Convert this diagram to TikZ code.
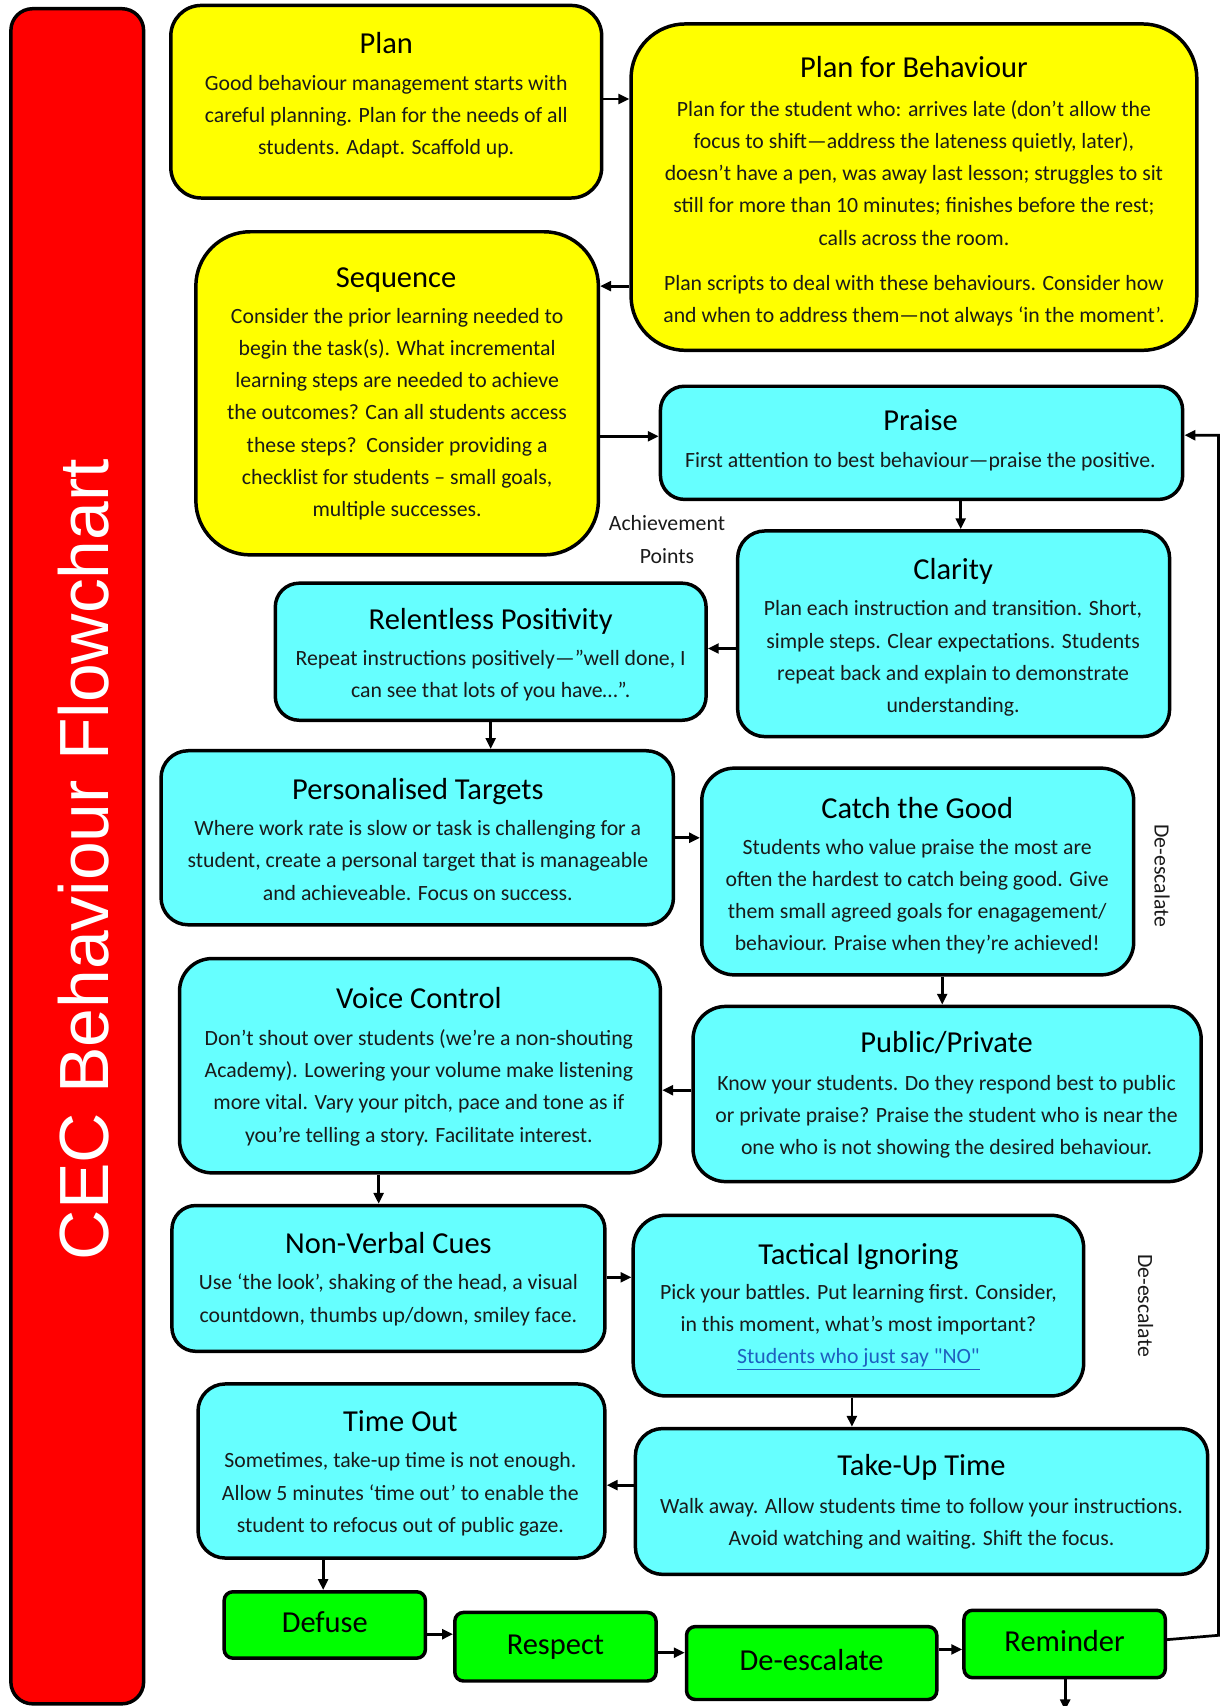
\documentclass[tikz,border=0pt]{standalone}
\usepackage{fontspec}
\setmainfont{Carlito}
\newfontfamily\arialf{Liberation Sans}
\newfontfamily\linkf{Carlito}[Ligatures=TeXOff]
\usetikzlibrary{arrows.meta}
\definecolor{boxyellow}{HTML}{FFFF00}
\definecolor{boxcyan}{HTML}{66FFFF}
\definecolor{boxgreen}{HTML}{00FF00}
\definecolor{barred}{HTML}{FF0000}
\definecolor{linkblue}{HTML}{1F5FBF}
\definecolor{txt}{HTML}{1A1A1A}
\begin{document}
\begin{tikzpicture}[x=1pt,y=-1pt,
  card/.style={draw=black, line width=3.2pt, inner sep=0pt},
  ylw/.style={card, fill=boxyellow},
  cyn/.style={card, fill=boxcyan},
  grn/.style={card, fill=boxgreen, rounded corners=8pt, font=\fontsize{28}{32}\selectfont, text height=19pt, text depth=5pt},
  ttl/.style={font=\fontsize{28}{32}\selectfont, inner sep=0pt, text height=20pt, text depth=6pt},
  bdy/.style={font=\fontsize{20}{29.6}\selectfont, align=center, inner sep=0pt, anchor=north, text=txt},
  side/.style={font=\fontsize{20}{30}\selectfont, align=center, inner sep=0pt, text=txt},
  arr/.style={line width=2.5pt, -{Triangle[length=10pt,width=9pt]}},
  conn/.style={line width=2.5pt}
]
\useasboundingbox (0,0) rectangle (1123,1568);

% red title bar
\node[card, fill=barred, rounded corners=20pt, minimum width=122pt, minimum height=1558pt] (bar) at (71,787) {};
\node[rotate=90, text=white, inner sep=0pt, font=\arialf\fontsize{64}{70}\selectfont] (barT) at (77,790) {CEC Behaviour Flowchart};

% yellow boxes
\node[ylw, rounded corners=28pt, minimum width=396pt, minimum height=177pt] (plan) at (355,93.5) {};
\node[ttl] (planT) at (355,42) {Plan};
\node[bdy] (planB) at (355,69) {Good behaviour management starts with\\careful planning. Plan for the needs of all\\students. Adapt. Scaffold up.};

\node[ylw, rounded corners=50pt, minimum width=520pt, minimum height=300pt] (pfb) at (840,172) {};
\node[ttl] (pfbT) at (840,64) {Plan for Behaviour};
\node[bdy] (pfbB) at (840,92) {Plan for the student who: arrives late (don’t allow the\\focus to shift—address the lateness quietly, later),\\doesn’t have a pen, was away last lesson; struggles to sit\\still for more than 10 minutes; finishes before the rest;\\calls across the room.\\[12.4pt]Plan scripts to deal with these behaviours. Consider how\\and when to address them—not always ‘in the moment’.};

\node[ylw, rounded corners=50pt, minimum width=370pt, minimum height=297pt] (seq) at (365,361.5) {};
\node[ttl] (seqT) at (364,257) {Sequence};
\node[bdy] (seqB) at (365,283) {Consider the prior learning needed to\\begin the task(s). What incremental\\learning steps are needed to achieve\\the outcomes? Can all students access\\these steps?\ \ Consider providing a\\checklist for students – small goals,\\multiple successes.};

% cyan boxes
\node[cyn, rounded corners=22pt, minimum width=480pt, minimum height=104pt] (praise) at (847,407) {};
\node[ttl] (praiseT) at (846,389) {Praise};
\node[bdy] (praiseB) at (846,416) {First attention to best behaviour—praise the positive.};

\node[side] (ach) at (613,496) {Achievement\\Points};

\node[cyn, rounded corners=25pt, minimum width=397pt, minimum height=189pt] (clar) at (876.5,582.5) {};
\node[ttl] (clarT) at (876,526) {Clarity};
\node[bdy] (clarB) at (876,552) {Plan each instruction and transition. Short,\\simple steps. Clear expectations. Students\\repeat back and explain to demonstrate\\understanding.};

\node[cyn, rounded corners=22pt, minimum width=396pt, minimum height=126pt] (rel) at (451,599) {};
\node[ttl] (relT) at (451,572) {Relentless Positivity};
\node[bdy] (relB) at (451,597) {Repeat instructions positively—”well done, I\\can see that lots of you have…”.};

\node[cyn, rounded corners=25pt, minimum width=471pt, minimum height=160pt] (pers) at (383.5,770) {};
\node[ttl] (persT) at (384,728) {Personalised Targets};
\node[bdy] (persB) at (384,754) {Where work rate is slow or task is challenging for a\\student, create a personal target that is manageable\\and achieveable. Focus on success.};

\node[cyn, rounded corners=30pt, minimum width=397pt, minimum height=190pt] (catch) at (843.5,801) {};
\node[ttl] (catchT) at (843,745) {Catch the Good};
\node[bdy] (catchB) at (843,771) {Students who value praise the most are\\often the hardest to catch being good. Give\\them small agreed goals for enagagement/\\behaviour. Praise when they’re achieved!};

\node[side, rotate=-90] (de1) at (1068,805) {De-escalate};

\node[cyn, rounded corners=30pt, minimum width=467pt, minimum height=161pt] (pub) at (870.5,1005.5) {};
\node[ttl] (pubT) at (870,960) {Public/Private};
\node[bdy] (pubB) at (870,988) {Know your students. Do they respond best to public\\or private praise? Praise the student who is near the\\one who is not showing the desired behaviour.};

\node[cyn, rounded corners=30pt, minimum width=442pt, minimum height=197pt] (voice) at (386,979.5) {};
\node[ttl] (voiceT) at (385,920) {Voice Control};
\node[bdy] (voiceB) at (385,946) {Don’t shout over students (we’re a non-shouting\\Academy). Lowering your volume make listening\\more vital. Vary your pitch, pace and tone as if\\you’re telling a story. Facilitate interest.};

\node[cyn, rounded corners=22pt, minimum width=398pt, minimum height=134pt] (nvc) at (357,1175) {};
\node[ttl] (nvcT) at (357,1145) {Non-Verbal Cues};
\node[bdy] (nvcB) at (357,1171) {Use ‘the look’, shaking of the head, a visual\\countdown, thumbs up/down, smiley face.};

\node[cyn, rounded corners=30pt, minimum width=414pt, minimum height=166pt] (tact) at (789,1200) {};
\node[ttl] (tactT) at (789,1155) {Tactical Ignoring};
\node[bdy] (tactB) at (789,1180) {Pick your battles. Put learning first. Consider,\\in this moment, what’s most important?\\{\linkf\color{linkblue}\underline{Students who just say "NO"}}};

\node[side, rotate=-90] (de2) at (1053,1200) {De-escalate};

\node[cyn, rounded corners=25pt, minimum width=526pt, minimum height=134pt] (take) at (847,1380) {};
\node[ttl] (takeT) at (847,1349) {Take-Up Time};
\node[bdy] (takeB) at (847,1377) {Walk away. Allow students time to follow your instructions.\\Avoid watching and waiting. Shift the focus.};

\node[cyn, rounded corners=25pt, minimum width=374pt, minimum height=160pt] (tout) at (369,1352) {};
\node[ttl] (toutT) at (368,1309) {Time Out};
\node[bdy] (toutB) at (368,1335) {Sometimes, take-up time is not enough.\\Allow 5 minutes ‘time out’ to enable the\\student to refocus out of public gaze.};

% green boxes
\node[grn, minimum width=185pt, minimum height=61pt] (defuse) at (298.5,1493.5) {Defuse};
\node[grn, minimum width=185pt, minimum height=63pt] (respect) at (510.5,1513.5) {Respect};
\node[grn, minimum width=230pt, minimum height=67pt] (deesc) at (746,1528.5) {De-escalate};
\node[grn, minimum width=185pt, minimum height=62pt] (remind) at (978.5,1511) {Reminder};

% connectors
\draw[arr] ([yshift=2.5pt]plan.east) -- ([yshift=81pt]pfb.west);
\draw[arr] ([yshift=-91pt]pfb.west) -- ([yshift=98.5pt]seq.east);
\draw[arr] ([yshift=-39.5pt]seq.east) -- ([yshift=6pt]praise.west);
\draw[arr] ([xshift=36pt]praise.south) -- ([xshift=6.5pt]clar.north);
\draw[arr] ([yshift=-13.5pt]clar.west) -- ([yshift=3pt]rel.east);
\draw[arr] (rel.south) -- ([xshift=67.5pt]pers.north);
\draw[arr] (pers.east) -- ([yshift=31pt]catch.west);
\draw[arr] ([xshift=22.5pt]catch.south) -- ([xshift=-4.5pt]pub.north);
\draw[arr] ([yshift=3.5pt]pub.west) -- ([yshift=-22.5pt]voice.east);
\draw[arr] ([xshift=-38pt]voice.south) -- ([xshift=-9pt]nvc.north);
\draw[arr] ([yshift=1pt]nvc.east) -- ([yshift=26pt]tact.west);
\draw[arr] ([xshift=-6pt]tact.south) -- ([xshift=-64pt]take.north);
\draw[arr] ([yshift=15pt]take.west) -- ([yshift=-13pt]tout.east);
\draw[arr] ([xshift=-72pt]tout.south) -- ([xshift=-1.5pt]defuse.north);
\draw[arr] ([yshift=-8.5pt]defuse.east) -- ([yshift=11.5pt]respect.west);
\draw[arr] ([yshift=-5.5pt]respect.east) -- ([yshift=9.5pt]deesc.west);
\draw[arr] ([yshift=12.5pt]deesc.east) -- ([yshift=-5pt]remind.west);
\coordinate (loopA) at (1120,1503);
\coordinate (loopB) at (1120,400);
\draw[arr] ([yshift=4pt]remind.east) -- (loopA) -- (loopB) -- ([yshift=7pt]praise.east);
\coordinate (downEnd) at (979,1572);
\draw[arr] ([xshift=0.5pt]remind.south) -- (downEnd);
\end{tikzpicture}
\end{document}
